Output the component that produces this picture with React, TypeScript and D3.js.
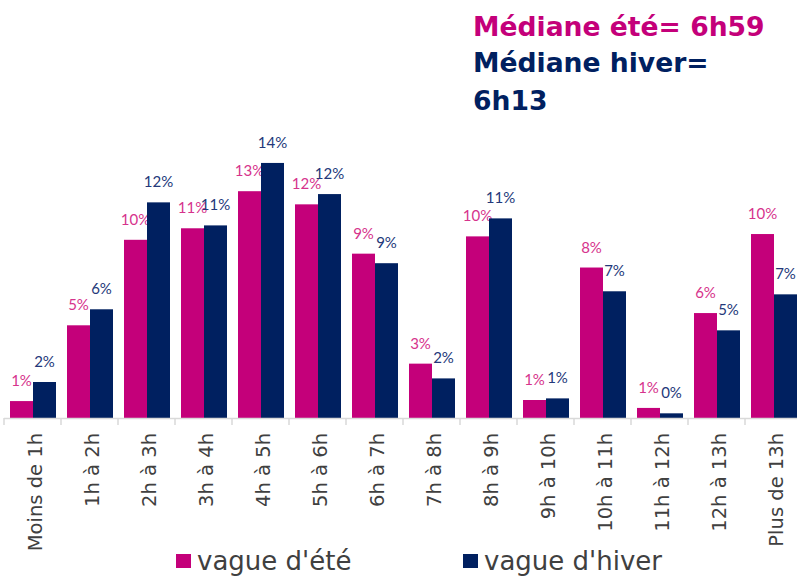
import React from "react";
import * as d3 from "d3";

const categories = [
  "Moins de 1h", "1h à 2h", "2h à 3h", "3h à 4h", "4h à 5h", "5h à 6h", "6h à 7h",
  "7h à 8h", "8h à 9h", "9h à 10h", "10h à 11h", "11h à 12h", "12h à 13h", "Plus de 13h",
];
const ete = [0.94, 5.15, 9.9, 10.54, 12.6, 11.87, 9.13, 3.02, 10.09, 1.0, 8.36, 0.56, 5.83, 10.22];
const hiver = [2.0, 6.04, 11.98, 10.7, 14.17, 12.44, 8.6, 2.2, 11.09, 1.09, 7.04, 0.26, 4.87, 6.87];
const eteLabels = ["1%", "5%", "10%", "11%", "13%", "12%", "9%", "3%", "10%", "1%", "8%", "1%", "6%", "10%"];
const hiverLabels = ["2%", "6%", "12%", "11%", "14%", "12%", "9%", "2%", "11%", "1%", "7%", "0%", "5%", "7%"];
const seriesNames = ["vague d'été", "vague d'hiver"];
const titleLines = ["Médiane été= 6h59", "Médiane hiver=", "6h13"];

const PINK = "#C4007A";
const NAVY = "#002060";
const PINK_LBL = "#D6338C";
const NAVY_LBL = "#24387A";
const GREY_TXT = "#404040";

export default function App() {
  const W = 797, H = 577;
  const baseY = 418;
  const x0 = d3.scaleBand<string>().domain(categories).range([4, 802]).padding(0);
  const bw = x0.bandwidth();
  const x1 = d3.scaleBand<string>().domain(["ete", "hiver"]).range([6, bw - 5]).padding(0);
  const y = d3.scaleLinear().domain([0, 14.5]).range([baseY, baseY - 14.5 * 18]);

  const series = [
    { key: "ete", vals: ete, labels: eteLabels, color: PINK, lcolor: PINK_LBL },
    { key: "hiver", vals: hiver, labels: hiverLabels, color: NAVY, lcolor: NAVY_LBL },
  ];

  return (
    <svg width={W} height={H} style={{ position: "absolute", left: 0, top: 0 }}>
      <rect x={0} y={0} width={W} height={H} fill="#fff" />
      {/* title */}
      <text x={473} y={36} fontFamily="DejaVu Sans" fontWeight="bold" fontSize={26.6} fill={PINK}>
        {titleLines[0]}
      </text>
      <text x={473} y={72} fontFamily="DejaVu Sans" fontWeight="bold" fontSize={26.6} fill={NAVY}>
        {titleLines[1]}
      </text>
      <text x={473} y={110} fontFamily="DejaVu Sans" fontWeight="bold" fontSize={26.6} fill={NAVY}>
        {titleLines[2]}
      </text>

      {/* bars */}
      {series.map((s) =>
        categories.map((c, i) => {
          const bx = (x0(c) as number) + (x1(s.key) as number);
          const by = y(s.vals[i]);
          return (
            <g key={s.key + c}>
              <rect x={bx} y={by} width={x1.bandwidth()} height={baseY - by} fill={s.color} />
              <text
                x={bx + x1.bandwidth() / 2}
                y={by - 15}
                textAnchor="middle"
                fontFamily="Lato"
                fontSize={15}
                fill={s.lcolor}
              >
                {s.labels[i]}
              </text>
            </g>
          );
        })
      )}

      {/* axis */}
      <line x1={4} x2={802} y1={baseY + 0.5} y2={baseY + 0.5} stroke="#D9D9D9" strokeWidth={1.5} />
      {d3.range(categories.length + 1).map((i) => {
        const tx = 4 + i * bw;
        return <line key={"t" + i} x1={tx} x2={tx} y1={baseY} y2={425} stroke="#D9D9D9" strokeWidth={1.5} />;
      })}
      {categories.map((c) => {
        const cx = (x0(c) as number) + bw / 2 + 2;
        return (
          <text
            key={"xl" + c}
            transform={`translate(${cx},433) rotate(-90)`}
            textAnchor="end"
            dy="0.36em"
            fontFamily="DejaVu Sans"
            fontSize={19.5}
            fill={GREY_TXT}
          >
            {c}
          </text>
        );
      })}

      {/* legend */}
      <rect x={176} y={554} width={15} height={14} fill={PINK} />
      <text x={197} y={570} fontFamily="DejaVu Sans" fontSize={26} fill={GREY_TXT}>
        {seriesNames[0]}
      </text>
      <rect x={463} y={554} width={15} height={14} fill={NAVY} />
      <text x={484} y={570} fontFamily="DejaVu Sans" fontSize={26} fill={GREY_TXT}>
        {seriesNames[1]}
      </text>
    </svg>
  );
}
